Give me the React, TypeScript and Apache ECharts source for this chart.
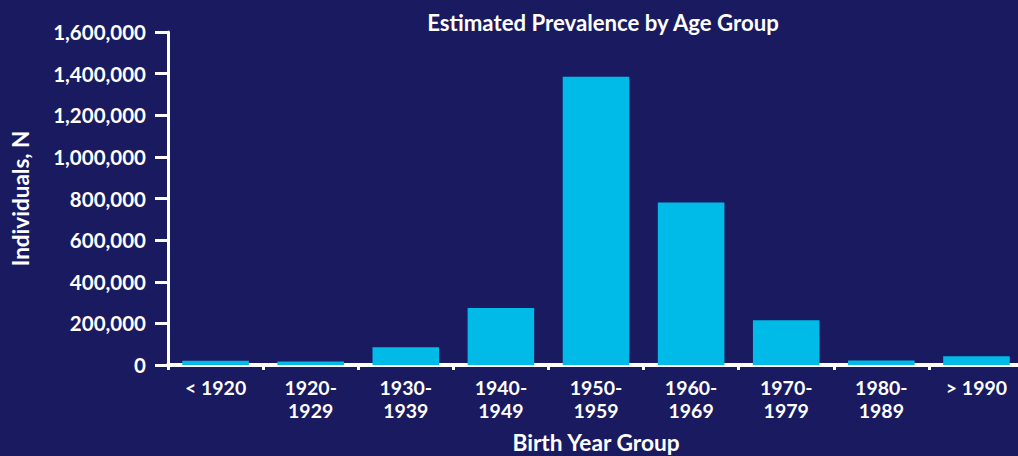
import React, { useEffect, useRef } from "react";
import * as echarts from "echarts";

const categories = ["< 1920", "1920-\n1929", "1930-\n1939", "1940-\n1949", "1950-\n1959", "1960-\n1969", "1970-\n1979", "1980-\n1989", "> 1990"];
const values = [21000, 17000, 85000, 274000, 1385000, 781000, 215000, 22000, 42000];
const yTicks = { min: 0, max: 1600000, interval: 200000 };
const titleText = "Estimated Prevalence by Age Group";
const xName = "Birth Year Group";
const yName = "Individuals, N";

const FONT = "Lato";

export default function App() {
  const ref = useRef<HTMLDivElement>(null);
  useEffect(() => {
    document.body.style.margin = "0";
    const chart = echarts.init(ref.current!, null, { renderer: "svg" });
    chart.setOption({
      animation: false,
      backgroundColor: "#191a5f",
      title: {
        text: titleText,
        left: 598,
        top: 6,
        textAlign: "center",
        textStyle: { color: "#ffffff", fontFamily: FONT, fontWeight: "bold", fontSize: 22.2 },
      },
      grid: { left: 168, width: 856, top: 32, bottom: 91, outerBoundsMode: "none", containLabel: false },
      xAxis: {
        type: "category",
        data: categories,
        name: xName,
        nameLocation: "middle",
        nameGap: 66,
        nameTextStyle: { color: "#ffffff", fontFamily: FONT, fontWeight: "bold", fontSize: 22.7 },
        axisLine: { lineStyle: { color: "#ffffff", width: 4 } },
        axisTick: { show: true, length: 5, lineStyle: { color: "#ffffff", width: 3 } },
        axisLabel: { color: "#ffffff", fontFamily: FONT, fontWeight: "bold", fontSize: 19.5, lineHeight: 23, margin: 11 },
      },
      yAxis: {
        type: "value",
        min: yTicks.min,
        max: yTicks.max,
        interval: yTicks.interval,
        name: yName,
        nameLocation: "middle",
        nameGap: 136,
        nameRotate: 90,
        nameTextStyle: { color: "#ffffff", fontFamily: FONT, fontWeight: "bold", fontSize: 22.5 },
        axisLine: { show: true, lineStyle: { color: "#ffffff", width: 3 } },
        axisTick: { show: true, length: 13, lineStyle: { color: "#ffffff", width: 3 } },
        splitLine: { show: false },
        axisLabel: {
          color: "#ffffff",
          fontFamily: FONT,
          fontWeight: "bold",
          fontSize: 20.5,
          margin: 22,
          formatter: (v: number) => v.toLocaleString("en-US"),
        },
      },
      series: [
        {
          type: "bar",
          data: values,
          barWidth: "70%",
          itemStyle: { color: "#00bbe7" },
        },
      ],
    });
    return () => chart.dispose();
  }, []);
  return <div ref={ref} style={{ width: 1018, height: 456 }} />;
}
